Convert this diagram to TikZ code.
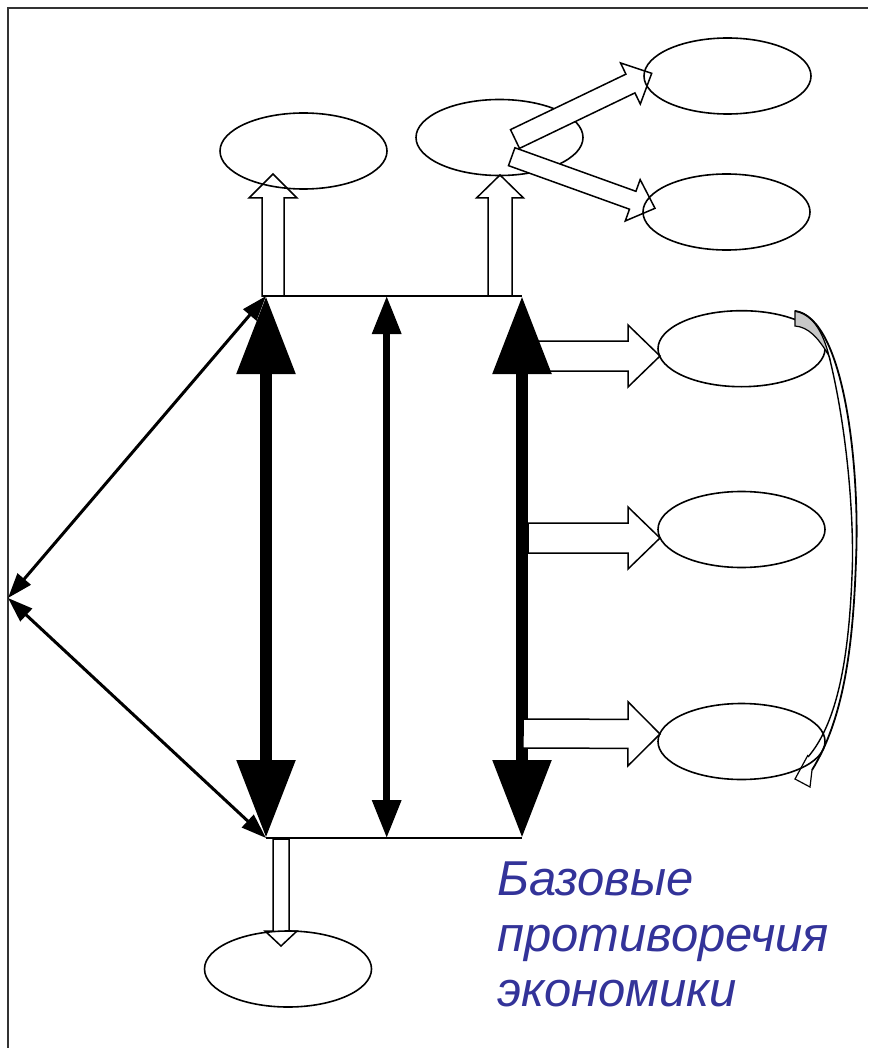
\documentclass[tikz,border=0pt]{standalone}
\usepackage{fontspec}
\setmainfont{Liberation Sans}
\usetikzlibrary{arrows.meta,calc,shapes.geometric}
\definecolor{txtblue}{RGB}{51,51,153}
\tikzset{
  ell/.style={ellipse,draw,line width=1.6pt,minimum width=167pt,minimum height=76pt,inner sep=0pt},
  blockar/.style={draw,fill=white,line width=1.5pt,line join=miter},
  bigar/.style={line width=12pt,{Triangle[length=78pt,width=56pt]}-{Triangle[length=78pt,width=56pt]}},
  midar/.style={line width=6.5pt,{Triangle[length=38pt,width=28pt]}-{Triangle[length=38pt,width=28pt]}},
  thinar/.style={line width=3pt,{Triangle[length=25pt,width=17pt]}-{Triangle[length=25pt,width=17pt]}},
  edge/.style={line width=2.5pt},
  lbl/.style={anchor=base west,inner sep=0pt,text=txtblue,font=\fontsize{49}{56}\selectfont\itshape}
}
\newcommand\blockarr[6][]{%
  \coordinate (bah) at ($(#3)!#6!(#2)$);
  \draw[blockar,#1] ($(#2)!#4!90:(#3)$) -- ($(bah)!#4!90:(#3)$) -- ($(bah)!#5!90:(#3)$) -- (#3)
     -- ($(bah)!#5!-90:(#3)$) -- ($(bah)!#4!-90:(#3)$) -- ($(#2)!#4!-90:(#3)$) -- cycle;}
\begin{document}
\begin{tikzpicture}[x=1pt,y=-1pt]
\useasboundingbox (0,0) rectangle (868,1048);
% frame
\draw[line width=2pt,black!80] (8,1048) -- (8,8) -- (868,8);
% key points
\coordinate (tl) at (266,296);
\coordinate (bl) at (266,838);
\coordinate (tm) at (386.7,296);
\coordinate (bm) at (386.7,838);
\coordinate (tr) at (522,296);
\coordinate (br) at (522,838);
\coordinate (lp) at (8,598);
% up block arrow 1 and ellipse
\coordinate (u1s) at (273,296);
\coordinate (u1e) at (273,174);
\blockarr{u1s}{u1e}{11pt}{24pt}{24pt}
\node[ell] (e1) at (303.5,151) {};
% up block arrow 2, middle ellipse, diagonal arrows
\coordinate (u2s) at (500,296);
\coordinate (u2e) at (500,175);
\blockarr{u2s}{u2e}{12pt}{23.5pt}{23pt}
\node[ell] (e2) at (499.5,137.5) {};
\coordinate (d1s) at (515,139);
\coordinate (d1e) at (651.7,73.3);
\blockarr{d1s}{d1e}{10.4pt}{22.8pt}{23.6pt}
\coordinate (d2s) at (511.7,156.7);
\coordinate (d2e) at (655,208.3);
\blockarr{d2s}{d2e}{9.5pt}{22pt}{23.7pt}
\node[ell] (e3) at (727.5,76) {};
\node[ell] (e4) at (726.5,212) {};
% right block arrows 1,2
\coordinate (r1s) at (535,356);
\coordinate (r1e) at (660,356);
\blockarr{r1s}{r1e}{15pt}{31pt}{32pt}
\coordinate (r2s) at (528,538);
\coordinate (r2e) at (660,538);
\blockarr{r2s}{r2e}{15pt}{31pt}{32pt}
% bottom block arrow
\coordinate (b1s) at (281,839);
\coordinate (b1e) at (281,946);
\blockarr{b1s}{b1e}{8pt}{16pt}{15pt}
\node[ell] (e8) at (288,969) {};
% right ellipses
\node[ell] (e5) at (741.5,348.7) {};
\node[ell] (e6) at (741.5,529.5) {};
\node[ell] (e7) at (741.5,741.5) {};
% top and bottom lines
\draw[edge] (262,296) -- (tr);
\draw[edge] (bl) -- (br);
% black arrows
\draw[bigar] (tl) -- (bl);
\draw[bigar] (tr) -- (br);
\draw[midar] (tm) -- (bm);
\draw[thinar] (tl) -- (lp);
\draw[thinar] (lp) -- (bl);
% right block arrow 3 (over the shaft)
\coordinate (r3s) at (523,733.5);
\coordinate (r3e) at (660,734);
\blockarr{r3s}{r3e}{14.5pt}{32pt}{32pt}
% curved arrow
\coordinate (ca1) at (795,311);
\coordinate (ca2) at (795,326);
\coordinate (cap) at (829,356);
\coordinate (cah) at (795,779);
\filldraw[fill=black!22,line width=1.2pt] (ca1) .. controls (812,313) and (823,332) .. (cap)
   .. controls (818,337) and (808,327) .. (ca2) -- cycle;
\draw[line width=1.8pt] (ca1) .. controls (845,318) and (860,470) .. (856,560)
   .. controls (853,650) and (843,720) .. (812,770);
\draw[line width=1.4pt] (cap) .. controls (845,420) and (853,500) .. (852.5,560)
   .. controls (850,655) and (838,722) .. (808,757);
\draw[line width=1.2pt,line join=miter] (808,755) -- (cah) -- (810,787) -- (812,770);
% label
\node[lbl] (t1) at (497,895) {Базовые};
\node[lbl] (t2) at (497,951.7) {противоречия};
\node[lbl] (t3) at (497,1006.7) {экономики};
\end{tikzpicture}
\end{document}
